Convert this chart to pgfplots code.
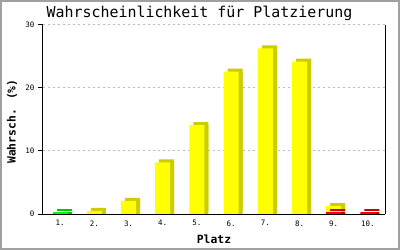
\documentclass[border=0pt]{standalone}
\usepackage{pgfplots}
\pgfplotsset{compat=1.18}
\usepackage{fontspec}
\setmainfont{DejaVu Sans Mono}
\definecolor{yel}{HTML}{FFFF00}
\definecolor{yeld}{HTML}{CCCC00}
\definecolor{grn}{HTML}{00FF00}
\definecolor{grnd}{HTML}{00C800}
\definecolor{rd}{HTML}{FF0000}
\definecolor{rdd}{HTML}{C80000}
\definecolor{gridc}{HTML}{BBBBBB}
\definecolor{framec}{HTML}{A0A0A0}

\pgfplotstableread{
x y
1 0.3
}\green
\pgfplotstableread{
x y
2 0.5
3 2.1
4 8.2
5 14.1
6 22.6
7 26.3
8 24.2
9 1.25
}\yellow
\pgfplotstableread{
x y
9 0.3
10 0.3
}\red

\begin{document}
\begin{tikzpicture}
\begin{axis}[
  name=ax,
  at={(0,0)}, anchor=south west,
  scale only axis, width=342bp, height=189bp,
  xmin=0.5, xmax=10.5, ymin=0, ymax=30,
  axis x line*=bottom, axis y line*=left,
  axis line style={black, line width=1bp},
  xtick={1,...,10},
  xticklabels={1.,2.,3.,4.,5.,6.,7.,8.,9.,10.},
  ytick={0,10,20,30},
  x tick style={draw=none},
  y tick style={black, line width=1bp},
  tick align=outside,
  major tick length=5bp,
  ymajorgrids,
  grid style={gridc, dash pattern=on 2bp off 3bp, line width=1bp},
  /pgf/number format/assume math mode=true,
  tick label style={font=\fontsize{7.5}{8}\selectfont},
  xticklabel style={yshift=2bp},
  every axis title shift=0pt,
  title={Wahrscheinlichkeit für Platzierung},
  title style={font=\fontsize{15}{16}\selectfont, at={(axis description cs:0.4576,1.061)}, anchor=center},
  xlabel={Platz},
  xlabel style={font=\fontsize{11.4}{12}\selectfont\bfseries, at={(axis description cs:0.5,-0.132)}, anchor=center},
  ylabel={Wahrsch. (\%)},
  ylabel style={font=\fontsize{11.4}{12}\selectfont\bfseries, at={(axis description cs:-0.0906,0.489)}, anchor=center, rotate=0},
  clip=false,
]
% green
\addplot[ybar, bar width=15bp, bar shift=0pt, fill=grnd, draw=none, xshift=4bp] table[x=x,y=y] {\green};
\addplot[ybar, bar width=15bp, bar shift=0pt, fill=grnd, draw=none, xshift=4bp, yshift=3bp] table[x=x,y=y] {\green};
\addplot[ybar, bar width=15bp, bar shift=0pt, fill=grn, draw=none] table[x=x,y=y] {\green};
% yellow
\addplot[ybar, bar width=15bp, bar shift=0pt, fill=yeld, draw=none, xshift=4bp] table[x=x,y=y] {\yellow};
\addplot[ybar, bar width=15bp, bar shift=0pt, fill=yeld, draw=none, xshift=4bp, yshift=3bp] table[x=x,y=y] {\yellow};
\addplot[ybar, bar width=15bp, bar shift=0pt, fill=yel, draw=none] table[x=x,y=y] {\yellow};
% red
\addplot[ybar, bar width=15bp, bar shift=0pt, fill=rdd, draw=none, xshift=4bp] table[x=x,y=y] {\red};
\addplot[ybar, bar width=15bp, bar shift=0pt, fill=rdd, draw=none, xshift=4bp, yshift=3bp] table[x=x,y=y] {\red};
\addplot[ybar, bar width=15bp, bar shift=0pt, fill=rd, draw=none] table[x=x,y=y] {\red};
\draw[black, line width=1bp] (rel axis cs:1,0) -- (rel axis cs:1,1);
\draw[black, line width=1bp] (rel axis cs:0,0) -- (rel axis cs:1,0);
\end{axis}
\pgfresetboundingbox
\path ([shift={(-43bp,-36bp)}]ax.south west) rectangle ([shift={(357bp,214bp)}]ax.south west);
\draw[framec, line width=2bp] ([shift={(-42bp,-35bp)}]ax.south west) rectangle ([shift={(356bp,213bp)}]ax.south west);
\end{tikzpicture}
\end{document}
